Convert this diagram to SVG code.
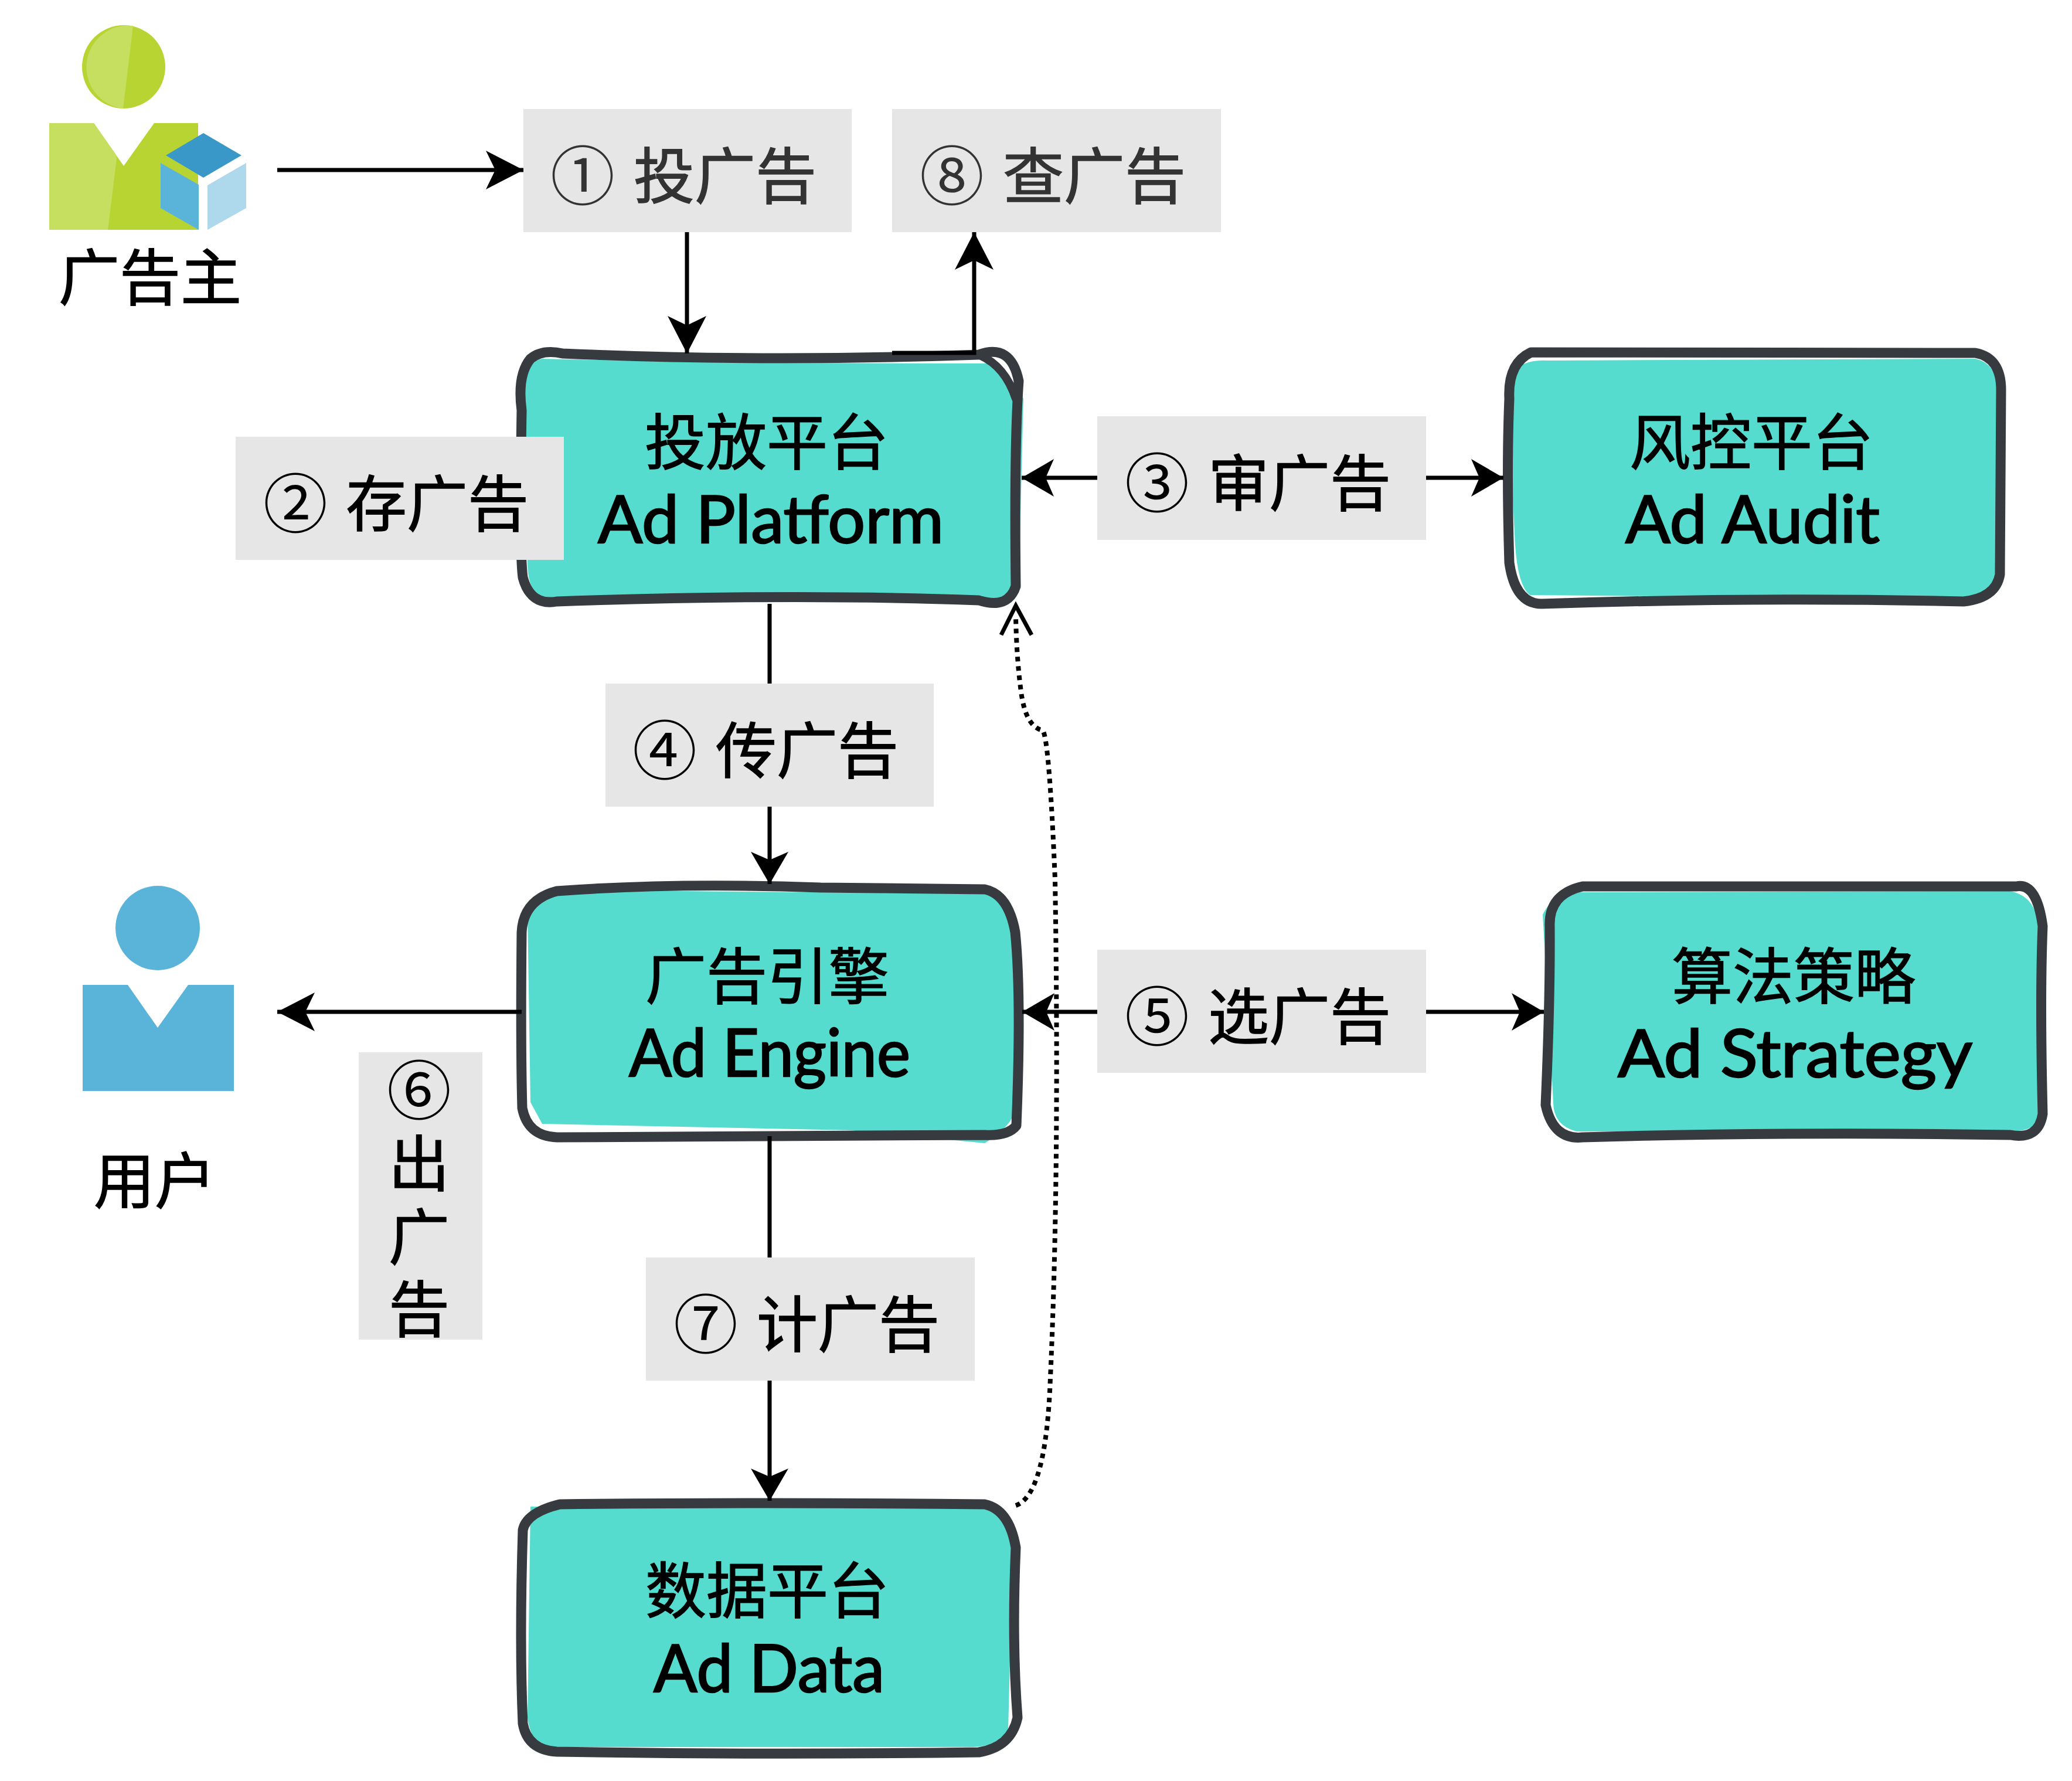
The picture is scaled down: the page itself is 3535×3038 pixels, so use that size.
<svg xmlns="http://www.w3.org/2000/svg" width="3535" height="3038" viewBox="0 0 3535 3038">
<style>
.fill{fill:#55dccf;stroke:none}
.edge{fill:none;stroke:#373b40;stroke-width:17;stroke-linecap:round;stroke-linejoin:round}
.lb{fill:#e6e6e6}
.cjk{font-family:"Noto Sans CJK SC","Noto Sans",sans-serif;font-size:104px;fill:#000;stroke:#000;stroke-width:1.5}
.gray{fill:#333;stroke:#333}
.d{font-size:110px;stroke-width:0}
.mid{text-anchor:middle}
.en{font-family:"Lato","Noto Sans",sans-serif;font-size:112px;fill:#000;stroke:#000;stroke-width:2.5;text-anchor:start}
.c{fill:none;stroke:#000;stroke-width:7}
.dot{fill:none;stroke:#000;stroke-width:8;stroke-dasharray:8 8}
</style>
<defs>
<marker id="a" markerUnits="userSpaceOnUse" markerWidth="66" markerHeight="66" refX="64" refY="33" orient="auto"><path d="M64 33L0 0L16 33L0 66Z" fill="#000"/></marker>
<marker id="b" markerUnits="userSpaceOnUse" markerWidth="56" markerHeight="66" refX="55" refY="33" orient="auto"><path d="M55 33L0 1L14 33L0 65Z" fill="#000"/></marker>
<clipPath id="c6"><rect x="612" y="1795" width="211" height="490"/></clipPath>
</defs>
<rect width="3535" height="3038" fill="#fff"/>

<g id="advertiser">
<circle cx="211" cy="114" r="71" fill="#b8d432"/>
<path d="M227 44A71 71 0 0 0 210 185Z" fill="#c7df60"/>
<path d="M84 210H160L211 283L263 210H338V392H84Z" fill="#b8d432"/>
<path d="M84 210H160L198 264L199 270L184 392H84Z" fill="#c7df60"/>
<path d="M347 227L412 265L347 303L283 265Z" fill="#3998c8"/>
<path d="M274 278L339 315V392L274 355Z" fill="#5ab4da"/>
<path d="M420 278L354 316V392L420 355Z" fill="#aed9ed"/>
<text class="cjk" x="100" y="512">广告主</text>
</g>

<g id="user">
<circle cx="269" cy="1583" r="72" fill="#5ab4da"/>
<path d="M141 1680H218L269 1753L321 1680H399V1861H141Z" fill="#5ab4da"/>
<text class="cjk" x="160" y="2053">用户</text>
</g>

<g id="platform">
<path class="fill" d="M925 612Q1300 620 1690 620Q1735 650 1746 680L1738 1000Q1730 1022 1680 1022L940 1026Q900 1020 900 960L895 650Q900 615 925 612Z"/>
<path class="edge" d="M890 700Q882 640 905 612Q925 595 960 603Q1300 618 1670 605Q1725 585 1738 650Q1730 760 1733 1000Q1720 1040 1670 1024Q1350 1012 950 1026Q905 1034 892 985Q886 940 890 700Z"/>
<path class="edge" style="stroke-width:14" d="M1672 606Q1715 625 1733 680"/>
</g>
<g id="audit">
<path class="fill" d="M2570 640Q2600 612 2640 615L3370 612Q3410 620 3410 680L3405 1000Q3395 1020 3360 1022L2610 1015Q2590 1000 2585 930Z"/>
<path class="edge" d="M2575 680Q2572 620 2612 601Q3000 600 3370 602Q3414 610 3414 665L3412 980Q3405 1020 3350 1026Q3000 1018 2630 1030Q2585 1030 2575 960Q2570 800 2575 680Z"/>
</g>
<g id="strategy">
<path class="fill" d="M2632 1560Q2650 1522 2700 1522L3430 1520Q3480 1530 3480 1600L3485 1900Q3475 1930 3430 1930L2690 1930Q2650 1920 2650 1880Z"/>
<path class="edge" d="M2644 1580Q2642 1525 2700 1512Q3050 1512 3440 1512Q3475 1505 3485 1580Q3480 1700 3485 1900Q3478 1945 3430 1936Q3050 1930 2700 1940Q2650 1945 2637 1885Q2645 1700 2644 1580Z"/>
</g>
<g id="engine">
<path class="fill" d="M960 1518L1700 1525Q1728 1550 1730 1600L1730 1900Q1720 1925 1680 1950L1450 1928L925 1917L905 1880L900 1560Q915 1525 960 1518Z"/>
<path class="edge" d="M890 1590Q893 1535 950 1520Q1150 1505 1400 1514L1680 1517Q1720 1525 1732 1590Q1743 1700 1734 1920Q1720 1938 1680 1936L950 1940Q900 1938 891 1890Q888 1780 890 1590Z"/>
</g>
<g id="data">
<path class="fill" d="M905 2570L1690 2565Q1725 2590 1728 2640L1720 2950Q1700 2980 1660 2980H930Q905 2970 900 2930Z"/>
<path class="edge" d="M892 2610Q898 2580 955 2566Q1300 2562 1680 2566Q1722 2575 1733 2640Q1726 2800 1736 2930Q1725 2980 1670 2989Q1300 2994 950 2988Q900 2985 892 2940Q886 2800 892 2610Z"/>
</g>

<g id="connectors">
<path class="c" marker-end="url(#a)" d="M473 290H893"/>
<path class="c" marker-end="url(#a)" d="M1172 395V603"/>
<path class="c" marker-end="url(#a)" d="M1522 602H1662V396"/>
<path class="c" marker-end="url(#b)" d="M1872 815H1743"/>
<path class="c" marker-end="url(#b)" d="M2433 815H2565"/>
<path class="c" d="M1313 1030V1166"/>
<path class="c" marker-end="url(#b)" d="M1313 1375V1508"/>
<path class="c" marker-end="url(#b)" d="M1872 1726H1744"/>
<path class="c" marker-end="url(#b)" d="M2433 1726H2634"/>
<path class="c" marker-end="url(#a)" d="M890 1726H473"/>
<path class="c" d="M1313 1938V2145"/>
<path class="c" marker-end="url(#b)" d="M1313 2355V2560"/>
<path class="dot" d="M1733 2568Q1785 2550 1792 2350Q1808 2000 1800 1500Q1790 1260 1779 1246Q1750 1240 1742 1180Q1734 1120 1733 1050"/>
<path class="c" d="M1708 1083L1733 1033L1760 1083"/>
</g>

<g id="label1"><rect class="lb" x="893" y="186" width="560" height="210"/><text class="cjk gray" y="339"><tspan class="d" x="939" dy="2">①</tspan><tspan x="1081" dy="-2">投广告</tspan></text></g>
<g id="label8"><rect class="lb" x="1522" y="186" width="561" height="210"/><text class="cjk gray" y="339"><tspan class="d" x="1569" dy="2">⑧</tspan><tspan x="1711" dy="-2">查广告</tspan></text></g>
<g id="label2"><rect class="lb" x="402" y="745" width="560" height="210"/><text class="cjk" y="898"><tspan class="d" x="449" dy="2">②</tspan><tspan x="590" dy="-2">存广告</tspan></text></g>
<g id="label3"><rect class="lb" x="1872" y="710" width="561" height="211"/><text class="cjk" y="863"><tspan class="d" x="1919" dy="2">③</tspan><tspan x="2061" dy="-2">审广告</tspan></text></g>
<g id="label4"><rect class="lb" x="1033" y="1166" width="560" height="210"/><text class="cjk" y="1319"><tspan class="d" x="1079" dy="2">④</tspan><tspan x="1221" dy="-2">传广告</tspan></text></g>
<g id="label5"><rect class="lb" x="1872" y="1620" width="561" height="210"/><text class="cjk" y="1773"><tspan class="d" x="1919" dy="2">⑤</tspan><tspan x="2061" dy="-2">选广告</tspan></text></g>
<g id="label6"><rect class="lb" x="612" y="1795" width="211" height="490"/>
<g clip-path="url(#c6)"><text class="cjk mid"><tspan class="d" x="715" y="1901">⑥</tspan><tspan x="715" y="2024">出</tspan><tspan x="715" y="2149">广</tspan><tspan x="715" y="2272">告</tspan></text></g></g>
<g id="label7"><rect class="lb" x="1102" y="2145" width="561" height="210"/><text class="cjk" y="2298"><tspan class="d" x="1149" dy="2">⑦</tspan><tspan x="1291" dy="-2">计广告</tspan></text></g>

<g id="text-platform"><text class="cjk mid" x="1308" y="793">投放平台</text><text class="en" x="1020" y="926" textLength="590" lengthAdjust="spacingAndGlyphs">Ad Platform</text></g>
<g id="text-audit"><text class="cjk mid" x="2988" y="793">风控平台</text><text class="en" x="2773" y="926" textLength="434" lengthAdjust="spacingAndGlyphs">Ad Audit</text></g>
<g id="text-engine"><text class="cjk mid" x="1309" y="1704">广告引擎</text><text class="en" x="1073" y="1836" textLength="480" lengthAdjust="spacingAndGlyphs">Ad Engine</text></g>
<g id="text-strategy"><text class="cjk mid" x="3060" y="1704">算法策略</text><text class="en" x="2760" y="1837" textLength="605" lengthAdjust="spacingAndGlyphs">Ad Strategy</text></g>
<g id="text-data"><text class="cjk mid" x="1309" y="2752">数据平台</text><text class="en" x="1115" y="2886" textLength="394" lengthAdjust="spacingAndGlyphs">Ad Data</text></g>
</svg>
